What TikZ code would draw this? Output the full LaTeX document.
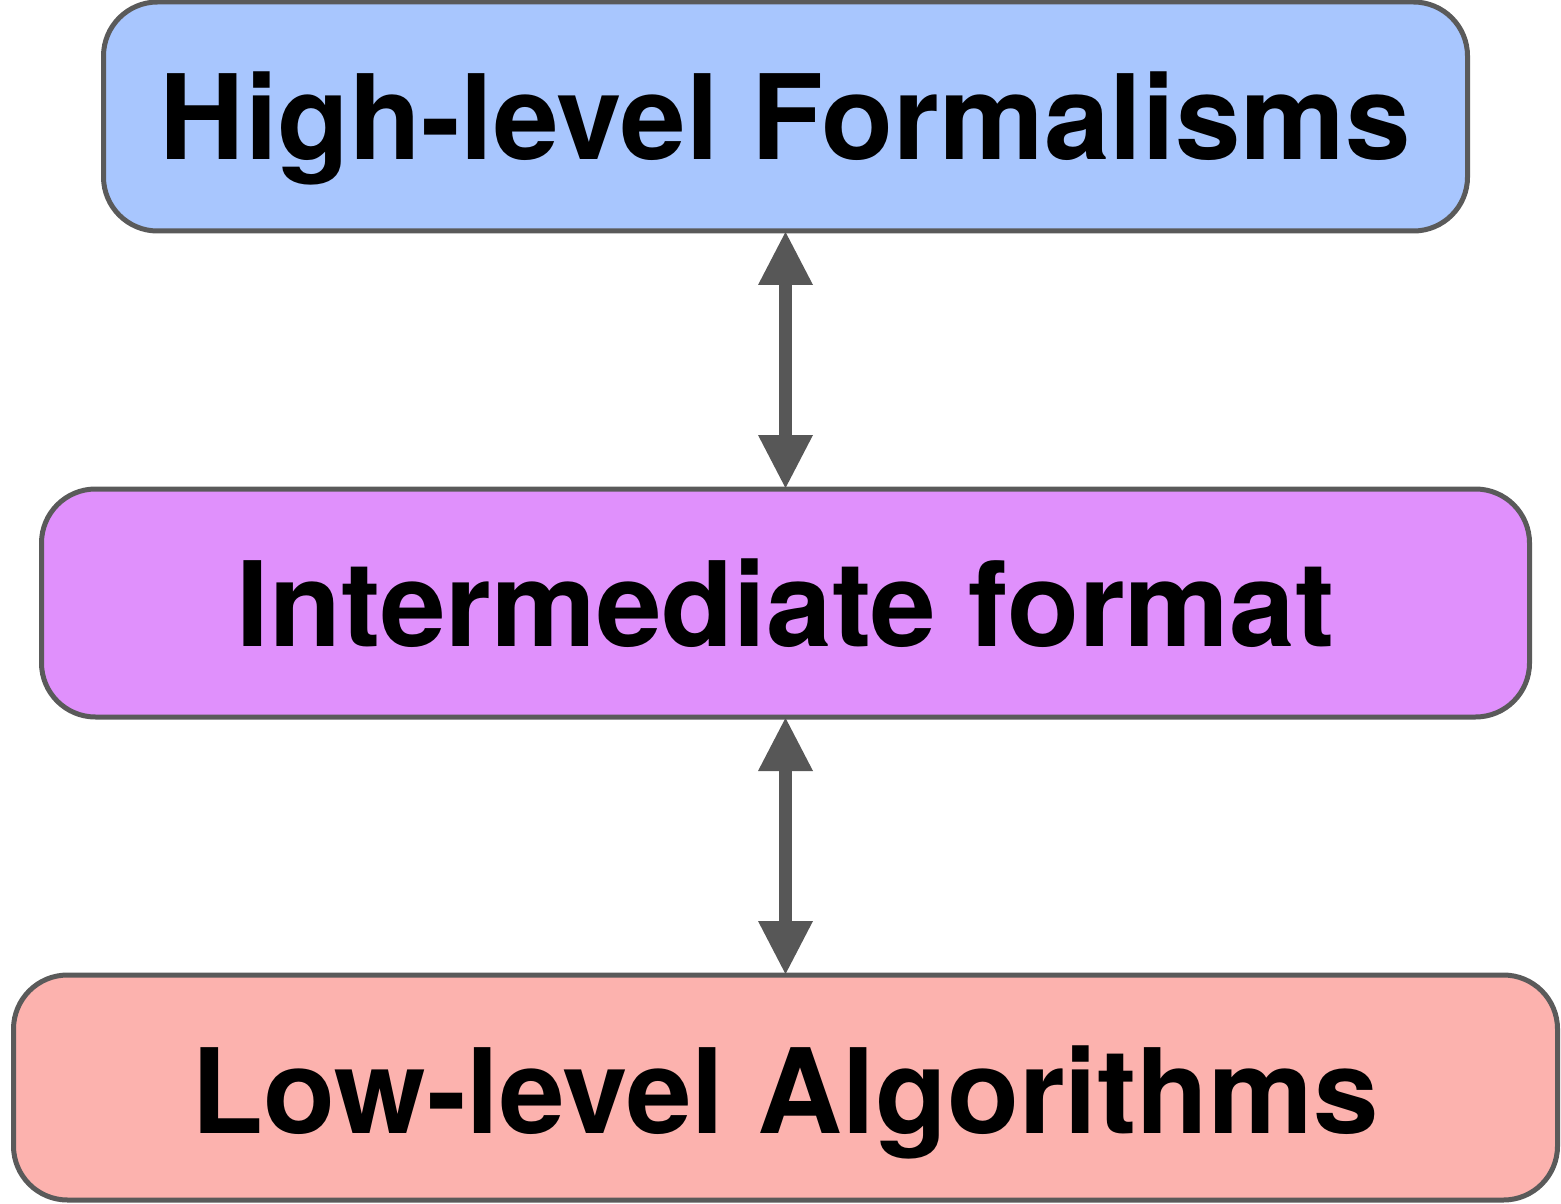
\documentclass[tikz,border=0pt]{standalone}
\usepackage{fontspec}
\setmainfont{TeX Gyre Heros}
\usetikzlibrary{arrows.meta}

\definecolor{edgegray}{HTML}{5A5A5A}
\definecolor{arrowgray}{HTML}{575757}
\definecolor{highblue}{HTML}{A8C6FE}
\definecolor{midviolet}{HTML}{E090FC}
\definecolor{lowsalmon}{HTML}{FCB2AE}

\tikzset{
  layer/.style={draw=edgegray, line width=2.5pt, rounded corners=27pt,
    inner sep=0pt, text height=43pt, text depth=0pt,
    font=\fontsize{58.9pt}{70pt}\selectfont\bfseries},
  link/.style={draw=arrowgray, line width=6.8pt,
    {Triangle[width=27.5pt,length=26.5pt,line width=0pt]}-{Triangle[width=27.5pt,length=26.5pt,line width=0pt]},
    shorten <=-0.75pt, shorten >=-0.75pt}
}

\begin{document}
\begin{tikzpicture}[x=0.5pt,y=-0.5pt]
  \useasboundingbox (0,0) rectangle (1561,1203);

  % the three layers
  \node[layer, fill=highblue, minimum width=682pt, minimum height=114.5pt]
    (high) at (785.5,116.5) {High-level Formalisms};
  \node[layer, fill=midviolet, minimum width=744pt, minimum height=114pt]
    (mid) at (785.5,603) {Intermediate format};
  \node[layer, fill=lowsalmon, minimum width=772pt, minimum height=112.5pt]
    (low) at (785.5,1087.5) {\raisebox{-1.5pt}{Low-level Algorithms}};

  % two-way links between adjacent layers
  \draw[link] (high.south) -- (mid.north);
  \draw[link] (mid.south) -- (low.north);
\end{tikzpicture}
\end{document}
